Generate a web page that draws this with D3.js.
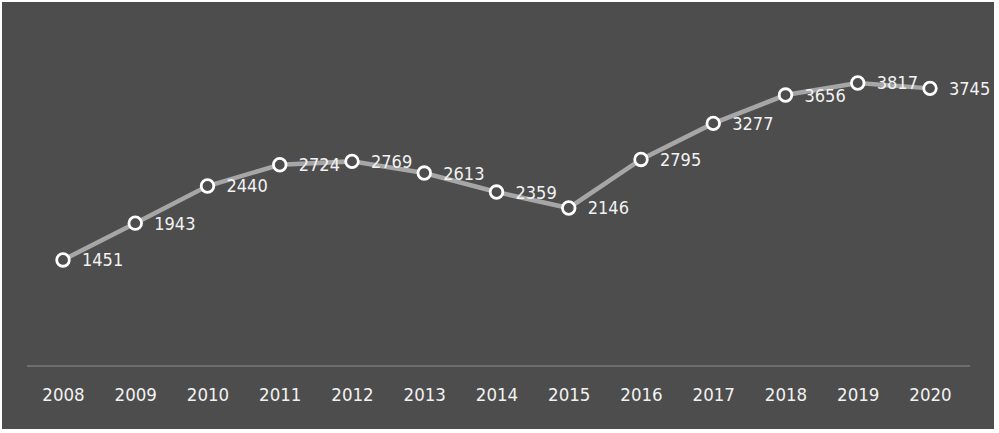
<!DOCTYPE html>
<meta charset="utf-8">
<style>
  body { margin: 0; background: #fff; }
  text { font-family: 'DejaVu Sans Condensed', 'DejaVu Sans', sans-serif; }
</style>
<script src="https://d3js.org/d3.v7.min.js"></script>
<div id="chart"></div>
<script>
// data
var years = ["2008", "2009", "2010", "2011", "2012", "2013", "2014", "2015", "2016", "2017", "2018", "2019", "2020"];
var counts = [1451, 1943, 2440, 2724, 2769, 2613, 2359, 2146, 2795, 3277, 3656, 3817, 3745];

var W = 999, H = 433;

var svg = d3.select("#chart").append("svg")
    .attr("width", W)
    .attr("height", H);

// dark panel
svg.append("rect")
    .attr("x", 2).attr("y", 2)
    .attr("width", 992).attr("height", 427)
    .attr("fill", "#4d4d4d");

var x = d3.scalePoint()
    .domain(years)
    .range([63, 930]);

var y = d3.scaleLinear()
    .domain([0, 4000])
    .range([368.5, 69.3]);

// x axis: plain line + year labels
var xAxis = svg.append("g")
    .attr("transform", "translate(0,366)")
    .call(d3.axisBottom(x).tickSize(0).tickPadding(22));
xAxis.select(".domain").remove();
xAxis.append("line")
    .attr("x1", 27).attr("x2", 970)
    .attr("stroke", "#6e6e6e")
    .attr("stroke-width", 2);
xAxis.selectAll("text")
    .attr("fill", "#f2f2f2")
    .style("font-size", "18.5px");

var data = years.map(function(d, i) { return {year: d, value: counts[i]}; });

// line
svg.append("path")
    .datum(data)
    .attr("fill", "none")
    .attr("stroke", "#a6a6a6")
    .attr("stroke-width", 4.5)
    .attr("d", d3.line()
      .x(function(d) { return x(d.year); })
      .y(function(d) { return y(d.value); }));

// markers
svg.selectAll("circle.pt")
    .data(data)
  .enter().append("circle")
    .attr("class", "pt")
    .attr("cx", function(d) { return x(d.year); })
    .attr("cy", function(d) { return y(d.value); })
    .attr("r", 6.3)
    .attr("fill", "#4d4d4d")
    .attr("stroke", "#ffffff")
    .attr("stroke-width", 2.8);

// value labels
svg.selectAll("text.lbl")
    .data(data)
  .enter().append("text")
    .attr("class", "lbl")
    .attr("x", function(d) { return x(d.year) + 19; })
    .attr("y", function(d) { return y(d.value); })
    .attr("dy", "0.36em")
    .attr("fill", "#f2f2f2")
    .style("font-size", "18px")
    .text(function(d) { return d.value; });
</script>
